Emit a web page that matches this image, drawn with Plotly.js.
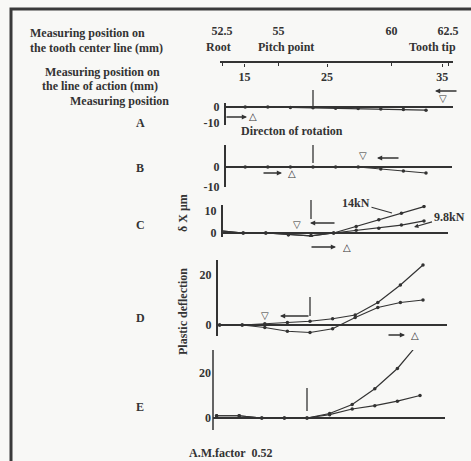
<!DOCTYPE html>
<html><head><meta charset="utf-8">
<script src="https://cdn.plot.ly/plotly-3.0.1.min.js"></script>
<style>html,body{margin:0;padding:0;background:#f8f8f6;}</style>
</head><body><div id="chart" style="width:471px;height:461px;"></div>
<script>
// ---- data ----
const pos = [52.5, 53.5, 54.5, 55.5, 56.5, 57.5, 58.5, 59.5, 60.5, 61.5]; // tooth center line (mm)
const pitchPoint = 56.5;
const centerTicks = [52.5, 55, 60, 62.5];
const centerLabels = ['52.5', '55', '60', '62.5'];
const actionPos = [53.5, 57.15, 62.25];
const actionLabels = ['15', '25', '35'];
const valA = [0, 0, 0, -0.3, -0.5, -0.8, -1, -1.2, -1.6, -2];
const valB = [0, 0, 0, 0, 0, 0, 0, -1, -2, -3];
const valC14 = [1, 0, 0, -0.8, -1.3, 0, 3, 6, 9, 12];
const valC98 = [1, 0, 0, -0.8, -1.3, 0, 1.2, 2.2, 3.6, 5.5];
const valD14 = [0, 0, 0.5, 1, 1.5, 2.5, 4, 9, 16, 24];
const valD98 = [0, 0, -1, -2.5, -3, -1.5, 3, 7, 9, 10];
const valE14 = [1, 1, 0, 0, 0, 2, 6, 13, 22, 34];
const valE98 = [1, 1, 0, 0, 0, 1.5, 4, 5.5, 7.5, 10];
const panelNames = ['A', 'B', 'C', 'D', 'E'];
const tickA = [0, -10], tickB = [0, -10], tickC = [0, 10], tickD = [0, 20], tickE = [0, 20];

// ---- layout helpers ----
const W = 471, H = 461, S = 22.6;
const px = x => x / W, py = y => 1 - y / H;
const ink = '#333';
const serif = {family: 'Liberation Serif, DejaVu Serif, serif', size: 12, color: ink, weight: 'bold'};
// panel geometry (pixels): axis x, line end x, pitch x, y top, y bottom, y of zero, px per unit
const P = [
  {ax: 224, end: 453, pitch: 313, top: 103, bot: 125, zero: 107, k: 1.6},
  {ax: 224, end: 452, pitch: 313, top: 145, bot: 187, zero: 167, k: 2.0},
  {ax: 221, end: 448, pitch: 311, top: 205, bot: 237, zero: 233, k: 2.2},
  {ax: 216, end: 447, pitch: 310, top: 260, bot: 336, zero: 325, k: 2.5},
  {ax: 213, end: 445, pitch: 307, top: 350, bot: 430, zero: 418, k: 2.25}
];
const ticks = [tickA, tickB, tickC, tickD, tickE];
const series = [[valA], [valB], [valC14, valC98], [valD14, valD98], [valE14, valE98]];

const traces = [];
const layout = {
  width: W, height: H, autosize: false,
  margin: {l: 0, r: 0, t: 0, b: 0},
  paper_bgcolor: '#f8f8f6', plot_bgcolor: 'rgba(0,0,0,0)',
  showlegend: false, font: serif,
  annotations: [], shapes: []
};
const A = layout.annotations;
const txt = (x, y, t, o) => A.push(Object.assign({x: px(x), y: py(y), xref: 'paper', yref: 'paper', text: t,
  showarrow: false, font: serif, xanchor: 'center', yanchor: 'middle'}, o || {}));

P.forEach((p, i) => {
  const n = i + 1, xs = n === 1 ? '' : n, ys = n === 1 ? '' : n;
  layout['xaxis' + xs] = {
    domain: [px(p.ax), px(p.end)],
    range: [pitchPoint - (p.pitch - p.ax) / S, pitchPoint + (p.end - p.pitch) / S],
    visible: false, anchor: 'y' + ys, fixedrange: true
  };
  const hi = (p.zero - p.top) / p.k, lo = -(p.bot - p.zero) / p.k;
  layout['yaxis' + ys] = {
    domain: [py(p.bot), py(p.top)], range: [lo, hi],
    anchor: 'free', position: px(p.ax),
    showgrid: false, zeroline: true, zerolinecolor: ink, zerolinewidth: 1.5,
    showline: i !== 4, linecolor: ink, linewidth: 1.5,
    ticks: '', tickvals: ticks[i], ticktext: ticks[i].map(String),
    tickfont: serif, ticklabelstandoff: 2, fixedrange: true
  };
  series[i].forEach(v => traces.push({
    x: pos, y: v, xaxis: 'x' + xs, yaxis: 'y' + ys, type: 'scatter', mode: 'lines+markers',
    line: {color: ink, width: 1.2}, marker: {color: ink, size: 3.5}, hoverinfo: 'skip'
  }));
  // pitch point marker
  const pl = [[90, 106], [145, 163], [200, 219], [297, 316], [388, 411]][i];
  layout.shapes.push({type: 'line', xref: 'x' + xs, yref: 'paper', x0: pitchPoint, x1: pitchPoint,
    y0: py(pl[0]), y1: py(pl[1]), line: {color: ink, width: 1.3}});
  txt(140, [123, 168, 225, 318, 407][i], panelNames[i]);
});
// E axis line (shorter than the curve)
layout.shapes.push({type: 'line', xref: 'paper', yref: 'paper', x0: px(213), x1: px(213), y0: py(430), y1: py(350),
  line: {color: ink, width: 1.5}});

// top scales
layout.xaxis6 = {domain: [px(220), px(453)], range: [52.5 - 2 / S, 62.5 + 5 / S], anchor: 'y6', side: 'top',
  showline: true, linecolor: ink, linewidth: 1.3, ticks: 'inside', ticklen: 3, tickcolor: ink,
  tickvals: centerTicks, ticktext: centerLabels, tickfont: serif, ticklabelstandoff: 22, showgrid: false, zeroline: false, fixedrange: true};
layout.xaxis7 = {domain: [px(220), px(453)], range: [52.5 - 2 / S, 62.5 + 5 / S], anchor: 'y6', side: 'bottom',
  overlaying: 'x6', showline: false, ticks: 'outside', ticklen: 3, tickcolor: ink,
  tickvals: actionPos, ticktext: actionLabels, tickfont: serif, showgrid: false, zeroline: false, fixedrange: true};
layout.yaxis6 = {domain: [py(63), py(63) + 0.0005], visible: false, range: [0, 1], fixedrange: true};
traces.push({x: centerTicks, y: [0.5, 0.5, 0.5, 0.5], xaxis: 'x6', yaxis: 'y6', mode: 'lines', opacity: 0, hoverinfo: 'skip'});
traces.push({x: actionPos, y: [0.5, 0.5, 0.5], xaxis: 'x7', yaxis: 'y6', mode: 'lines', opacity: 0, hoverinfo: 'skip'});

txt(28, 33, 'Measuring position on', {xanchor: 'left'});
txt(28, 48, 'the tooth center line (mm)', {xanchor: 'left'});
txt(43, 72, 'Measuring position on', {xanchor: 'left'});
txt(40, 86, 'the line of action (mm)', {xanchor: 'left'});
txt(68, 101, 'Measuring position', {xanchor: 'left'});
txt(218, 47, 'Root');
txt(286, 47, 'Pitch point');
txt(432, 47, 'Tooth tip');
txt(292, 131, 'Directon of rotation');
txt(230, 453, 'A.M.factor  0.52');
txt(183, 213, 'δ X μm', {textangle: -90});
txt(183, 312, 'Plastic deflection', {textangle: -90});
// load labels
A.push({x: px(392), y: py(213), xref: 'paper', yref: 'paper', text: '14kN', showarrow: true, arrowhead: 0,
  arrowwidth: 1.1, arrowcolor: ink, ax: -36, ay: -10, font: serif});
A.push({x: px(414), y: py(227), xref: 'paper', yref: 'paper', text: '9.8kN', showarrow: true, arrowhead: 2, arrowsize: 0.8,
  arrowwidth: 1.1, arrowcolor: ink, ax: 35, ay: -10, font: serif});
// direction arrows and triangles
const tri = {family: 'DejaVu Sans', size: 10, color: ink};
const arr = (hx, hy, tx) => A.push({x: px(hx), y: py(hy), xref: 'paper', yref: 'paper', text: '', showarrow: true,
  arrowhead: 2, arrowsize: 0.8, arrowwidth: 1.3, arrowcolor: ink, ax: tx - hx, ay: 0});
txt(443, 99, '▽', {font: tri}); arr(435, 91, 458);
txt(253, 117, '△', {font: tri}); arr(247, 117, 225);
txt(363, 155, '▽', {font: tri}); arr(377, 158, 400);
txt(292, 174, '△', {font: tri}); arr(282, 173, 262);
txt(297, 224, '▽', {font: tri}); arr(310, 223, 336);
txt(347, 247, '△', {font: tri}); arr(336, 247, 310);
txt(265, 315, '▽', {font: tri}); arr(280, 316, 310);
txt(415, 335, '△', {font: tri}); arr(405, 335, 387);

// frame
layout.shapes.push({type: 'rect', xref: 'paper', yref: 'paper', x0: px(11), x1: px(495), y0: py(9), y1: py(490),
  line: {color: '#3a3a3a', width: 3}});

Plotly.newPlot('chart', traces, layout, {staticPlot: true, displayModeBar: false});
</script></body></html>
